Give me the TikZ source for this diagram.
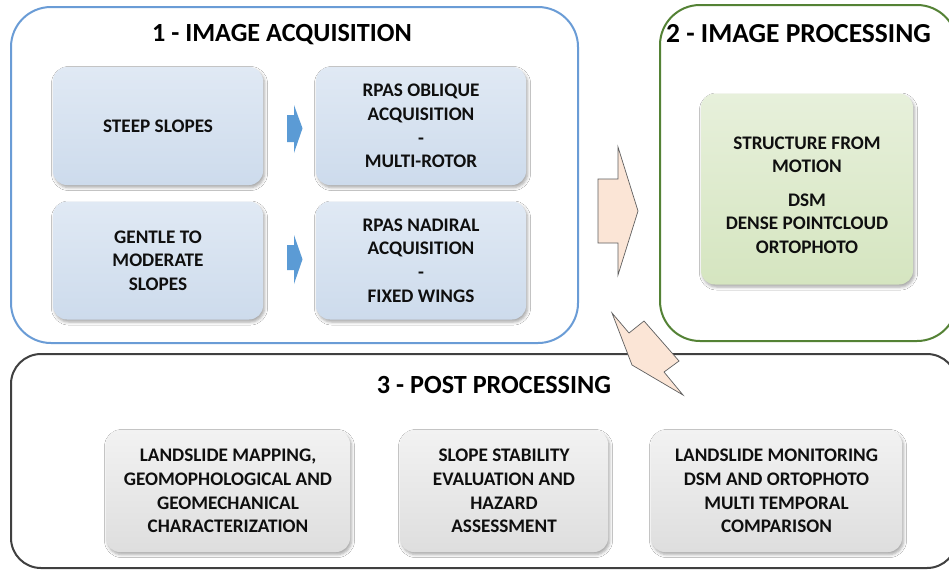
\documentclass[tikz,border=0pt]{standalone}
\usepackage{fontspec}
\setmainfont{Carlito}
\usetikzlibrary{shadows.blur}
\definecolor{frameblue}{RGB}{106,156,214}
\definecolor{framegreen}{RGB}{84,130,53}
\definecolor{framegray}{RGB}{64,64,64}
\definecolor{bluetop}{RGB}{224,233,244}
\definecolor{bluebot}{RGB}{205,219,236}
\definecolor{greentop}{RGB}{231,240,219}
\definecolor{greenbot}{RGB}{213,229,192}
\definecolor{graytop}{RGB}{242,242,242}
\definecolor{graybot}{RGB}{222,222,222}
\definecolor{peach}{RGB}{251,229,214}
\definecolor{peachline}{RGB}{95,95,95}
\definecolor{arrowblue}{RGB}{91,155,213}
\definecolor{textdark}{RGB}{15,15,15}
\begin{document}
\begin{tikzpicture}[x=1pt,y=-1pt,
  frame/.style={line width=2pt},
  titletext/.style={font=\bfseries\fontsize{26.2}{30}\selectfont, text=black, anchor=base, inner sep=0pt},
  inbox/.style={rounded corners=14pt, align=center, inner sep=2pt,
    font=\bfseries\fontsize{19.2}{23.6}\selectfont, text=textdark,
    blur shadow={shadow xshift=1.5pt, shadow yshift=-2.5pt, shadow blur radius=3pt, shadow opacity=35}},
  bluebox/.style={inbox, top color=bluetop, bottom color=bluebot, minimum width=210pt, minimum height=118pt},
  greenbox/.style={inbox, top color=greentop, bottom color=greenbot, minimum width=212pt, minimum height=191pt},
  graybox/.style={inbox, top color=graytop, bottom color=graybot, minimum height=122pt},
  intext/.style={align=center, inner sep=0pt, font=\bfseries\fontsize{19.2}{23.6}\selectfont, text=textdark},
  peacharrow/.style={fill=peach, draw=peachline, line width=0.7pt, line join=miter},
  bluearrow/.style={fill=arrowblue, draw=none}
]
\clip (0,0) rectangle (949,571);
\fill[white] (0,0) rectangle (949,571);

% frames
\draw[frame, draw=frameblue, rounded corners=40pt] (11,7) rectangle (578,343);
\draw[frame, draw=framegreen, rounded corners=40pt] (660,5) rectangle (957,341);
\draw[frame, draw=framegray, rounded corners=30pt] (11,354) rectangle (957,568);

% titles
\node[titletext] (t1) at (282,41.7) {1 - IMAGE ACQUISITION};
\node[titletext, font=\bfseries\fontsize{27.5}{32}\selectfont] (t2) at (798.5,42) {2 - IMAGE PROCESSING};
\node[titletext] (t3) at (494,393) {3 - POST PROCESSING};

% section 1 boxes
\node[bluebox] (steep) at (158,126) {STEEP SLOPES};
\node[bluebox] (oblique) at (421,126) {RPAS OBLIQUE\\ACQUISITION\\-\\MULTI-ROTOR};
\node[bluebox] (gentle) at (158,260.5) {GENTLE TO\\MODERATE\\SLOPES};
\node[bluebox] (nadiral) at (421,260.5) {RPAS NADIRAL\\ACQUISITION\\-\\FIXED WINGS};

% blue block arrows
\path[bluearrow] (287,115) -- (294,115) -- (294,105) -- (302.5,128.3) -- (294,153) -- (294,142) -- (287,142) -- cycle;
\path[bluearrow] (287,245) -- (294,245) -- (294,235) -- (302.5,259.3) -- (294,284) -- (294,270) -- (287,270) -- cycle;

% section 2 box
\node[greenbox] (sfm) at (807,189) {};
\node[intext] (sfmtext) at ([yshift=-6pt]sfm.center) {STRUCTURE FROM\\MOTION\\[10pt]DSM\\DENSE POINTCLOUD\\ORTOPHOTO};

% section 3 boxes
\node[graybox, minimum width=244pt] (mapping) at (228,491) {LANDSLIDE MAPPING,\\GEOMOPHOLOGICAL AND\\GEOMECHANICAL\\CHARACTERIZATION};
\node[graybox, minimum width=208pt] (stability) at (504,491) {SLOPE STABILITY\\EVALUATION AND\\HAZARD\\ASSESSMENT};
\node[graybox, minimum width=251pt] (monitoring) at (776.5,491) {LANDSLIDE MONITORING\\DSM AND ORTOPHOTO\\MULTI TEMPORAL\\COMPARISON};

% peach block arrows
\path[peacharrow] (598,179) -- (618,179) -- (618,147) -- (638,211) -- (618,275) -- (618,243) -- (598,243) -- cycle;
\path[peacharrow] (612,313) -- (629,333) -- (644,321) -- (679,361) -- (664,372) -- (683,395) -- (632,365) -- cycle;
\end{tikzpicture}
\end{document}
